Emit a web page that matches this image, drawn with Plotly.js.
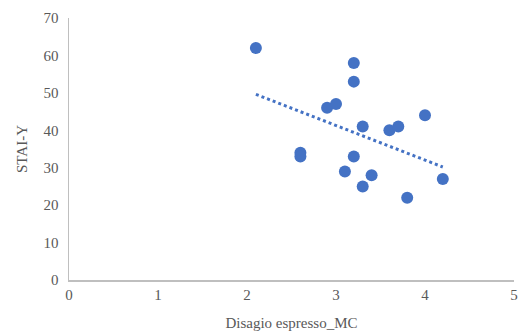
<!DOCTYPE html>
<html>
<head>
<meta charset="utf-8">
<script src="https://cdn.plot.ly/plotly-3.0.1.min.js"></script>
<style>html,body{margin:0;padding:0;background:#fff;}#chart{width:521px;height:336px;}</style>
</head>
<body>
<div id="chart"></div>
<script>
var disagioMC = [2.1, 3.2, 3.2, 2.9, 3.0, 3.3, 3.6, 3.7, 4.0, 2.6, 2.6, 3.2, 3.1, 3.4, 3.3, 3.8, 4.2];
var staiY     = [62, 58, 53, 46, 47, 41, 40, 41, 44, 34, 33, 33, 29, 28, 25, 22, 27];
var xTicks = [0, 1, 2, 3, 4, 5];
var yTicks = [0, 10, 20, 30, 40, 50, 60, 70];

// linear trendline (least squares) from the data
var n = disagioMC.length;
var mx = disagioMC.reduce(function(a,b){return a+b;},0)/n;
var my = staiY.reduce(function(a,b){return a+b;},0)/n;
var sxy = 0, sxx = 0;
for (var i=0;i<n;i++){ sxy += (disagioMC[i]-mx)*(staiY[i]-my); sxx += (disagioMC[i]-mx)*(disagioMC[i]-mx); }
var slope = sxy/sxx, icpt = my - slope*mx;
var xmin = Math.min.apply(null, disagioMC), xmax = Math.max.apply(null, disagioMC);
var trendX = [xmin, xmax];
var trendY = [icpt + slope*xmin, icpt + slope*xmax];

var font = {family: 'Times New Roman, Liberation Serif, serif', color: '#595959', size: 15};

var data = [
  {x: disagioMC, y: staiY, type: 'scatter', mode: 'markers',
   marker: {color: '#4472C4', size: 12}, showlegend: false, hoverinfo: 'none'},
  {x: trendX, y: trendY, type: 'scatter', mode: 'lines',
   line: {color: '#4472C4', width: 3, dash: 'dot'}, showlegend: false, hoverinfo: 'none'}
];

var layout = {
  width: 521, height: 336,
  margin: {l: 69, r: 7, t: 18, b: 56},
  paper_bgcolor: '#fff', plot_bgcolor: '#fff',
  font: font,
  xaxis: {range: [0, 5], tickvals: xTicks, ticktext: xTicks.map(String),
          showgrid: false, zeroline: false, showline: true, linecolor: '#BFBFBF', linewidth: 1.5,
          ticks: '', ticklen: 0, tickfont: font, fixedrange: true,
          title: {text: 'Disagio espresso_MC', font: font, standoff: 16}},
  yaxis: {range: [0, 70], tickvals: yTicks, ticktext: yTicks.map(String),
          showgrid: false, zeroline: false, showline: true, linecolor: '#BFBFBF', linewidth: 1.5,
          ticks: '', tickfont: font, ticklabelstandoff: 6, fixedrange: true,
          title: {text: 'STAI-Y', font: font, standoff: 12}}
};

Plotly.newPlot('chart', data, layout, {displayModeBar: false, staticPlot: true});
</script>
</body>
</html>
